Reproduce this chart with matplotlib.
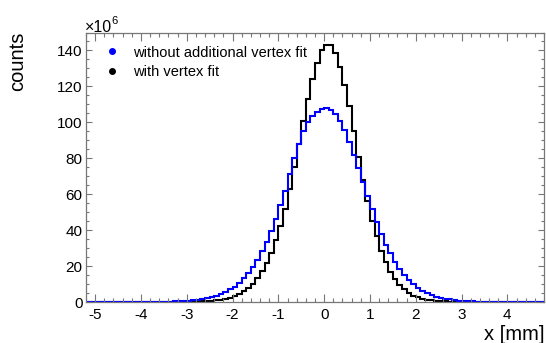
import numpy as np
import matplotlib
matplotlib.use('Agg')
import matplotlib.pyplot as plt
from matplotlib.lines import Line2D
from matplotlib.ticker import MultipleLocator

plt.rcParams['font.family'] = 'Liberation Sans'
plt.rcParams['axes.unicode_minus'] = False

# histogram binning: 100 bins of 0.1 mm
x_lo, x_hi, n_bins = -5.2, 4.8, 100

# counts per bin, in units of 10^6
counts_no_vtx = [0] * 11 + [
    0.02, 0.03, 0.04, 0.06, 0.08,
    0.1, 0.15, 0.2, 0.3, 0.4,
    0.55, 0.75, 1.0, 1.3, 1.7,
    2.2, 2.8, 3.6, 4.5, 5.6,
    7.0, 8.6, 10.8, 13.3, 16.3,
    19.5, 23.5, 28.5, 33.5, 39.5,
    46, 54, 62, 71, 80,
    88, 95, 100, 103.5, 106,
    107.5, 108, 107, 104.5, 101,
    96, 89, 82, 74.5, 67,
    59, 51.5, 44.5, 38, 32,
    27, 22.5, 18.5, 15.2, 12.3,
    9.9, 7.9, 6.3, 5.0, 3.9,
    3.0, 2.3, 1.8, 1.4, 1.05,
    0.8, 0.6, 0.45, 0.33, 0.25,
    0.18, 0.13, 0.1, 0.07, 0.05,
    0.04, 0.03, 0.02, 0.01,
] + [0] * 5

counts_vtx = [0] * 16 + [
    0.01, 0.015, 0.02, 0.03, 0.05,
    0.08, 0.12, 0.18, 0.25, 0.35,
    0.5, 0.7, 0.95, 1.3, 1.8,
    2.4, 3.3, 4.4, 5.9, 7.8,
    10.2, 13.2, 17, 21.5, 27.5,
    34.5, 42.5, 52, 63, 75,
    88, 101, 113, 124, 133,
    140, 143, 143, 138.5, 131,
    121, 109, 95, 80.5, 68,
    56, 45, 36.5, 28.5, 22,
    16.8, 12.8, 9.6, 7, 5,
    3.6, 2.6, 1.9, 1.35, 0.95,
    0.68, 0.48, 0.33, 0.23, 0.16,
    0.11, 0.07, 0.05, 0.03, 0.02,
    0.01,
] + [0] * 13

labels = ['without additional vertex fit', 'with vertex fit']
colors = ['blue', 'black']

edges = np.linspace(x_lo, x_hi, n_bins + 1)

fig = plt.figure(figsize=(5.46, 3.43), dpi=100)
ax = fig.add_axes([86 / 546, 1 - 302 / 343, 458 / 546, 269.5 / 343])

ax.stairs(counts_vtx, edges, color=colors[1], lw=1.5, baseline=0)
ax.stairs(counts_no_vtx, edges, color=colors[0], lw=1.5, baseline=0)

ax.set_xlim(x_lo, x_hi)
ax.set_ylim(0, 150)
ax.xaxis.set_major_locator(MultipleLocator(1))
ax.xaxis.set_minor_locator(MultipleLocator(0.2))
ax.yaxis.set_major_locator(MultipleLocator(20))
ax.yaxis.set_minor_locator(MultipleLocator(5))

frame = '#777777'
for s in ax.spines.values():
    s.set_color(frame)
    s.set_linewidth(0.9)
ax.tick_params(which='both', direction='in', top=True, right=True,
               color=frame, labelcolor='black', labelsize=11, width=0.8)
ax.tick_params(axis='x', which='major', length=5.8, pad=4)
ax.tick_params(axis='x', which='minor', length=2.9)
ax.tick_params(axis='y', which='major', length=4.3, pad=2.5)
ax.tick_params(axis='y', which='minor', length=2.2)

# ROOT style exponent above the y axis
fig.text(85 / 546, 1 - 27 / 343, '×10', fontsize=11.5, ha='left', va='center')
fig.text(111.2 / 546, 1 - 21.5 / 343, '6', fontsize=8, ha='left', va='center')
fig.text(18 / 546, 1 - 32 / 343, 'counts', rotation=90, fontsize=14.5,
         ha='center', va='top')
fig.text(545 / 546, 1 - 335 / 343, 'x [mm]', fontsize=14.5,
         ha='right', va='center')

handles = [Line2D([], [], ls='none', marker='o', ms=4, color=c) for c in colors]
ax.legend(handles, labels, loc='upper left', frameon=False, fontsize=10.5,
          bbox_to_anchor=(104.4 / 546, 1 - 45.6 / 343),
          bbox_transform=fig.transFigure, borderpad=0, borderaxespad=0,
          handlelength=1.0, handletextpad=0.98, labelspacing=0.36)

fig.savefig('out.png', dpi=100)
